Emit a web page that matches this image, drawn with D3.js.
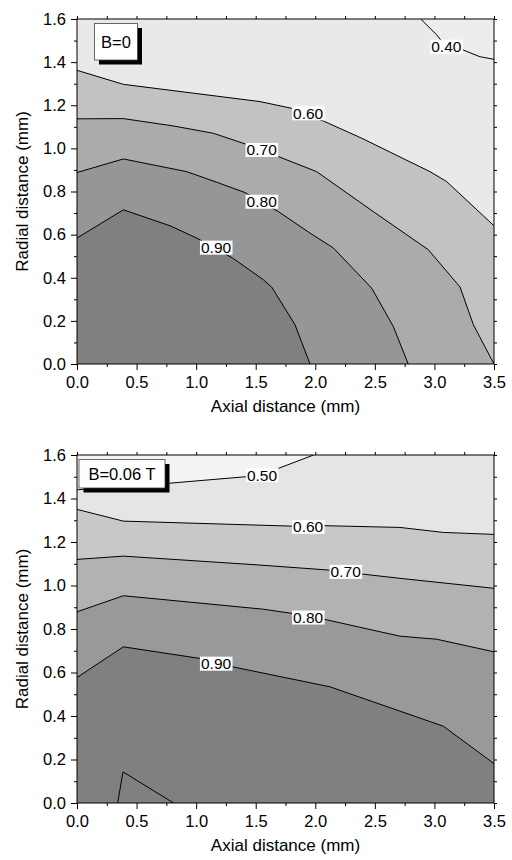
<!DOCTYPE html>
<html>
<head>
<meta charset="utf-8">
<script src="https://cdn.jsdelivr.net/npm/d3@7"></script>
<style>
body { margin: 0; background: #fff; }
text { font-family: Arial, "Liberation Sans", Helvetica, sans-serif; fill: #000; }
</style>
</head>
<body>
<svg width="512" height="860"></svg>
<script>
const xMajor = [0, 0.5, 1, 1.5, 2, 2.5, 3, 3.5];
const xMinor = [0.25, 0.75, 1.25, 1.75, 2.25, 2.75, 3.25];
const yMajor = [0, 0.2, 0.4, 0.6, 0.8, 1.0, 1.2, 1.4, 1.6];
const yMinor = [0.1, 0.3, 0.5, 0.7, 0.9, 1.1, 1.3, 1.5];
const xTitle = "Axial distance (mm)";
const yTitle = "Radial distance (mm)";

// B=0 : contour lines, [axial mm, radial mm]
const b0_040 = [[2.885, 1.6], [3.02, 1.526], [3.10, 1.47], [3.243, 1.456], [3.382, 1.425], [3.5, 1.413]];
const b0_060 = [[0, 1.362], [0.389, 1.297], [1.536, 1.217], [1.80, 1.186], [2.08, 1.124], [2.39, 1.047],
                [2.963, 0.892], [3.103, 0.846], [3.5, 0.641]];
const b0_070 = [[0, 1.137], [0.389, 1.138], [0.808, 1.104], [1.144, 1.070], [1.41, 1.021], [1.69, 0.962],
                [2.012, 0.892], [2.486, 0.707], [2.949, 0.530], [3.215, 0.357], [3.327, 0.182], [3.5, 0]];
const b0_080 = [[0, 0.888], [0.389, 0.951], [0.921, 0.892], [1.173, 0.843], [1.41, 0.795], [1.69, 0.707],
                [1.956, 0.607], [2.152, 0.538], [2.473, 0.352], [2.655, 0.174], [2.78, 0]];
const b0_090 = [[0, 0.584], [0.389, 0.715], [0.781, 0.641], [1.005, 0.584], [1.307, 0.491], [1.564, 0.391],
                [1.634, 0.357], [1.830, 0.182], [1.956, 0]];
const b0Labels = [["0.40", 3.10, 1.472], ["0.60", 1.94, 1.163], ["0.70", 1.55, 0.993],
                  ["0.80", 1.55, 0.753], ["0.90", 1.167, 0.540]];

// B=0.06 T
const b006_050 = [[0, 1.44], [0.389, 1.455], [0.770, 1.470], [1.413, 1.500], [1.693, 1.539], [1.985, 1.6]];
const b006_060 = [[0, 1.350], [0.389, 1.296], [1.80, 1.273], [2.08, 1.275], [2.711, 1.267], [3.075, 1.244], [3.5, 1.235]];
const b006_070 = [[0, 1.120], [0.389, 1.135], [1.536, 1.094], [2.11, 1.071], [2.403, 1.052], [2.711, 1.033], [3.5, 0.987]];
const b006_080 = [[0, 0.879], [0.389, 0.953], [1.564, 0.891], [1.80, 0.872], [2.08, 0.844], [2.711, 0.767],
                  [3.019, 0.753], [3.5, 0.695]];
const b006_090 = [[0, 0.577], [0.389, 0.718], [1.027, 0.665], [1.307, 0.626], [2.124, 0.534], [3.075, 0.353], [3.5, 0.181]];
const b006_100 = [[0.341, 0], [0.386, 0.143], [0.811, 0]];
const b006Labels = [["0.50", 1.553, 1.508], ["0.60", 1.94, 1.270], ["0.70", 2.255, 1.063],
                    ["0.80", 1.94, 0.853], ["0.90", 1.167, 0.641]];

const svg = d3.select("svg");
const left = 77, plotW = 417;

function panel(top, h, name, box, baseFill, contours, labels) {
  const x = d3.scaleLinear().domain([0, 3.5]).range([left, left + plotW]);
  const y = d3.scaleLinear().domain([0, 1.6]).range([top + h, top]);
  const g = svg.append("g");
  const clipId = "clip" + top;
  g.append("clipPath").attr("id", clipId).append("rect")
    .attr("x", left).attr("y", top).attr("width", plotW).attr("height", h);

  const line = d3.line().x(d => x(d[0])).y(d => y(d[1]));
  const body = g.append("g").attr("clip-path", "url(#" + clipId + ")");
  body.append("rect").attr("x", left).attr("y", top).attr("width", plotW).attr("height", h)
    .attr("fill", baseFill);

  // filled regions: "below" closes through the lower-left, "above" through the top edge
  contours.forEach(c => {
    const close = c.side === "below" ? [[3.5, 0], [0, 0]] : [[3.5, 1.6], [0, 1.6]];
    body.append("path").attr("d", line(c.pts.concat(close)) + "Z").attr("fill", c.fill);
  });
  contours.forEach(c => {
    body.append("path").attr("d", line(c.pts)).attr("fill", "none")
      .attr("stroke", "#000").attr("stroke-width", 1);
  });

  labels.forEach(l => {
    const lg = body.append("g");
    const t = lg.append("text").attr("x", x(l[1])).attr("y", y(l[2])).attr("dy", "0.36em")
      .attr("text-anchor", "middle").style("font-size", "15.5px").text(l[0]);
    const bb = t.node().getBBox();
    lg.insert("rect", "text").attr("x", bb.x - 1).attr("y", bb.y + 1.5)
      .attr("width", bb.width + 2).attr("height", bb.height - 3).attr("fill", "#fff");
  });

  // axes
  const styleAxis = a => {
    a.select(".domain").remove();
    a.selectAll("line").attr("stroke", "#000");
    a.selectAll("text").style("font-size", "16.5px").style("font-family", "Arial, 'Liberation Sans', sans-serif");
  };
  g.append("g").attr("transform", `translate(0,${top + h})`)
    .call(d3.axisBottom(x).tickValues(xMajor).tickSize(6).tickPadding(6.5).tickFormat(d3.format(".1f"))).call(styleAxis);
  g.append("g").attr("transform", `translate(0,${top + h})`)
    .call(d3.axisBottom(x).tickValues(xMinor).tickSize(3).tickFormat("")).call(styleAxis);
  g.append("g").attr("transform", `translate(${left},0)`)
    .call(d3.axisLeft(y).tickValues(yMajor).tickSize(6).tickPadding(5).tickFormat(d3.format(".1f"))).call(styleAxis);
  g.append("g").attr("transform", `translate(${left},0)`)
    .call(d3.axisLeft(y).tickValues(yMinor).tickSize(3).tickFormat("")).call(styleAxis);
  g.append("g").attr("transform", `translate(0,${top})`)
    .call(d3.axisTop(x).tickValues(xMajor.concat(xMinor)).tickSize(3).tickFormat("")).call(styleAxis);
  g.append("g").attr("transform", `translate(${left + plotW},0)`)
    .call(d3.axisRight(y).tickValues(yMajor.concat(yMinor)).tickSize(3).tickFormat("")).call(styleAxis);

  g.append("rect").attr("x", left).attr("y", top).attr("width", plotW).attr("height", h)
    .attr("fill", "none").attr("stroke", "#000").attr("stroke-width", 1);

  g.append("text").attr("x", left + plotW / 2).attr("y", top + h + 48)
    .attr("text-anchor", "middle").style("font-size", "17px").text(xTitle);
  g.append("text").attr("transform", `translate(27.5,${top + h / 2}) rotate(-90)`)
    .attr("text-anchor", "middle").style("font-size", "17px").text(yTitle);

  // legend box with drop shadow
  g.append("rect").attr("x", box.x + 4.5).attr("y", box.y + 4.5).attr("width", box.w).attr("height", box.h)
    .attr("fill", "#000");
  g.append("rect").attr("x", box.x).attr("y", box.y).attr("width", box.w).attr("height", box.h)
    .attr("fill", "#fff").attr("stroke", "#444").attr("stroke-width", 0.8);
  g.append("text").attr("x", box.x + box.w / 2).attr("y", box.y + box.h / 2).attr("dy", "0.36em")
    .attr("text-anchor", "middle").style("font-size", "16.5px").text(name);
}

panel(19, 345, "B=0", {x: 94.5, y: 23.5, w: 43, h: 36.5}, "#e9e9e9", [
  {pts: b0_040, side: "above", fill: "#ededed"},
  {pts: b0_060, side: "below", fill: "#c2c2c2"},
  {pts: b0_070, side: "below", fill: "#ababab"},
  {pts: b0_080, side: "below", fill: "#969696"},
  {pts: b0_090, side: "below", fill: "#808080"}
], b0Labels);

panel(455, 348, "B=0.06 T", {x: 79, y: 459.5, w: 86, h: 28.5}, "#e5e5e5", [
  {pts: b006_050, side: "above", fill: "#f3f3f3"},
  {pts: b006_060, side: "below", fill: "#c8c8c8"},
  {pts: b006_070, side: "below", fill: "#b2b2b2"},
  {pts: b006_080, side: "below", fill: "#999999"},
  {pts: b006_090, side: "below", fill: "#808080"},
  {pts: b006_100, side: "below", fill: "#808080"}
], b006Labels);
</script>
</body>
</html>
